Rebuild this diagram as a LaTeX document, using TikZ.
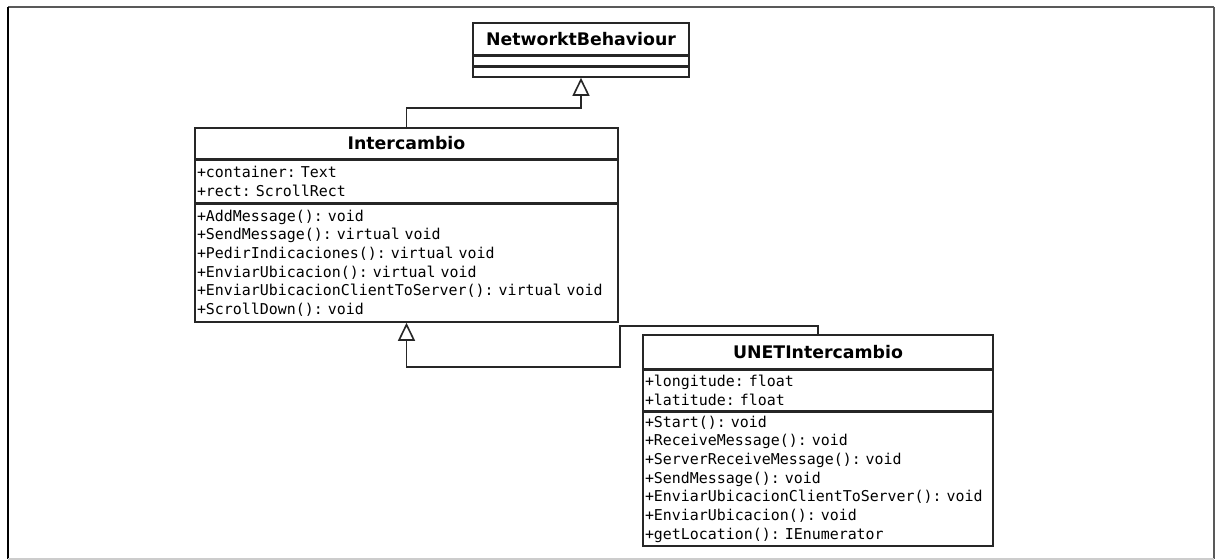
\documentclass[tikz,border=0pt]{standalone}
\usepackage{fontspec}
\newfontfamily\umlsans{DejaVu Sans}
\newfontfamily\umlmono{DejaVu Sans Mono}[WordSpace={1,0,0}, PunctuationSpace=WordSpace]
\usetikzlibrary{arrows.meta, positioning}

\begin{document}
\begin{tikzpicture}[x=0.75pt, y=0.75pt,
  classname/.style={draw=black!85, line width=1.2pt, anchor=north, inner sep=0pt, align=center, font=\umlsans\bfseries\fontsize{13}{15}\selectfont},
  members/.style={draw=black!85, line width=1.2pt, anchor=north, inner xsep=1.5pt, inner ysep=0pt, align=left, font=\umlmono\frenchspacing\fontsize{11.2}{14}\selectfont},
  inherit/.style={draw=black!85, line width=1.2pt, -{Triangle[open, length=13.5pt, width=12.75pt]}}]
  \useasboundingbox (0,0) rectangle (1218,560);
  % Frame
  \draw[black!65, line width=1.5pt] (8,553) -- (1214,553);
  \draw[black!65, line width=1.5pt] (1214,553) -- (1214,1);
  \draw[black, line width=1.5pt] (8,553) -- (8,1);
  \draw[black!20, line width=1pt] (8,1) -- (1214,1);

  % NetworktBehaviour
  \node[classname, minimum width=162pt, minimum height=24pt] (nbname) at (581,538) {NetworktBehaviour};
  \node[members, minimum width=162pt, minimum height=6.75pt] (nbattr) at (nbname.south) {};
  \node[members, minimum width=162pt, minimum height=7.5pt] (nbops) at (nbattr.south) {};

  % Intercambio
  \node[classname, minimum width=317.25pt, minimum height=23.25pt] (intername) at (406.5,433) {Intercambio};
  \node[members, text width=314.25pt, minimum height=31.5pt] (interattr) at (intername.south) {+container: Text\\+rect: ScrollRect};
  \node[members, text width=314.25pt, minimum height=88.5pt] (interops) at (interattr.south) {+AddMessage(): void\\+SendMessage(): virtual void\\+PedirIndicaciones(): virtual void\\+EnviarUbicacion(): virtual void\\+EnviarUbicacionClientToServer(): virtual void\\+ScrollDown(): void};

  % UNETIntercambio
  \node[classname, minimum width=262.5pt, minimum height=25.5pt] (unetname) at (818,226) {UNETIntercambio};
  \node[members, text width=259.5pt, minimum height=30pt] (unetattr) at (unetname.south) {+longitude: float\\+latitude: float};
  \node[members, text width=259.5pt, minimum height=100.5pt] (unetops) at (unetattr.south) {+Start(): void\\+ReceiveMessage(): void\\+ServerReceiveMessage(): void\\+SendMessage(): void\\+EnviarUbicacionClientToServer(): void\\+EnviarUbicacion(): void\\+getLocation(): IEnumerator};

  % Inheritance
  \draw[inherit] (intername.north) -- ++(0,19) -| (nbops.south);
  \draw[inherit] (unetname.north) -- ++(0,8) -| ++(-198,-41) -| (interops.south);
\end{tikzpicture}
\end{document}
